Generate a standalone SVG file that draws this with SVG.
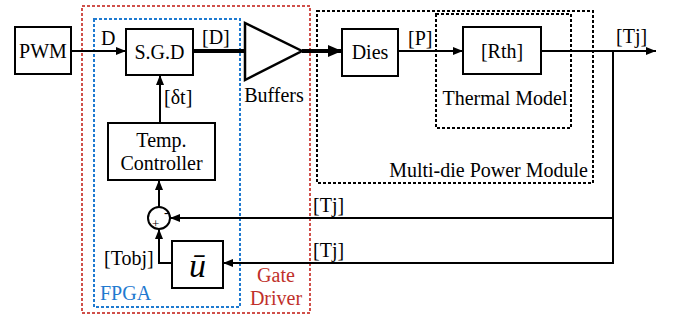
<svg xmlns="http://www.w3.org/2000/svg" width="674" height="320" viewBox="0 0 674 320">
<defs>
<marker id="ah" viewBox="0 0 10 8" refX="10" refY="4" markerWidth="10" markerHeight="8" markerUnits="userSpaceOnUse" orient="auto"><path d="M0,0 L10,4 L0,8 Z" fill="#000"/></marker>
<marker id="ahb" viewBox="0 0 14 12" refX="14" refY="6" markerWidth="14" markerHeight="12" markerUnits="userSpaceOnUse" orient="auto"><path d="M0,0 L14,6 L0,12 Z" fill="#000"/></marker>
</defs>
<style>
text{font-family:"Liberation Serif","Times New Roman",serif;font-size:20px;fill:#000}
.box{fill:#fff;stroke:#000;stroke-width:2}
.ln{fill:none;stroke:#000;stroke-width:2}
.thick{fill:none;stroke:#000;stroke-width:4}
.dk{fill:none;stroke:#000;stroke-width:2;stroke-dasharray:3 2}
.dr{fill:none;stroke:#d0504a;stroke-width:2;stroke-dasharray:3 2}
.db{fill:none;stroke:#1f7ad0;stroke-width:2;stroke-dasharray:3 2}
</style>
<rect width="674" height="320" fill="#fff"/>
<g id="groups">
<rect class="dr" x="82" y="6" width="228" height="307"/>
<rect class="db" x="94" y="19" width="146" height="288"/>
<rect class="dk" x="317" y="11" width="276" height="172"/>
<rect class="dk" x="436" y="14" width="135" height="114"/>
<text x="100" y="300" style="fill:#1f7ad0">FPGA</text>
<text x="276" y="282" text-anchor="middle" style="fill:#c0302a">Gate</text>
<text x="276" y="305" text-anchor="middle" style="fill:#c0302a">Driver</text>
<text x="588" y="177" text-anchor="end">Multi-die Power Module</text>
<text x="505" y="105" text-anchor="middle">Thermal Model</text>
</g>
<g id="connectors">
<line class="ln" x1="71" y1="51" x2="126" y2="51" marker-end="url(#ah)"/>
<line class="thick" x1="193" y1="51" x2="245" y2="51"/>
<line class="thick" x1="302" y1="51" x2="342" y2="51" marker-end="url(#ahb)"/>
<line class="ln" x1="398" y1="51" x2="463" y2="51" marker-end="url(#ah)"/>
<line class="ln" x1="541" y1="51" x2="656" y2="51" marker-end="url(#ah)"/>
<polyline class="ln" points="613,51 613,263 223,263" marker-end="url(#ah)"/>
<line class="ln" x1="613" y1="218" x2="170" y2="218" marker-end="url(#ah)"/>
<line class="ln" x1="160" y1="123" x2="160" y2="75" marker-end="url(#ah)"/>
<line class="ln" x1="159" y1="207" x2="159" y2="180" marker-end="url(#ah)"/>
<polyline class="ln" points="172,263 159,263 159,229" marker-end="url(#ah)"/>
<text x="101" y="45">D</text>
<text x="202" y="44">[D]</text>
<text x="164" y="104">[δt]</text>
<text x="408" y="45">[P]</text>
<text x="616" y="43">[Tj]</text>
<text x="313" y="212">[Tj]</text>
<text x="313" y="257">[Tj]</text>
<text x="104" y="265">[Tobj]</text>
</g>
<g id="pwm"><rect class="box" x="15" y="27" width="56" height="47"/><text x="43" y="58" text-anchor="middle">PWM</text></g>
<g id="sgd"><rect class="box" x="126" y="29" width="67" height="46"/><text x="159.5" y="59" text-anchor="middle">S.G.D</text></g>
<g id="buffers"><polygon points="245,23 245,80 302,51" fill="#fff" stroke="#000" stroke-width="2.5"/><text x="274" y="102" text-anchor="middle">Buffers</text></g>
<g id="dies"><rect class="box" x="342" y="29" width="56" height="47"/><text x="370" y="59" text-anchor="middle">Dies</text></g>
<g id="rth"><rect class="box" x="463" y="27" width="78" height="47"/><text x="502" y="58" text-anchor="middle">[Rth]</text></g>
<g id="controller"><rect class="box" x="108" y="123" width="107" height="57"/><text x="161.5" y="147" text-anchor="middle">Temp.</text><text x="161.5" y="170" text-anchor="middle">Controller</text></g>
<g id="sum"><circle cx="159" cy="218" r="11" fill="#fff" stroke="#000" stroke-width="2"/><text x="164" y="217" style="font-size:14px">-</text><text x="152" y="228" style="font-size:13px">+</text></g>
<g id="ubar"><rect class="box" x="172" y="241" width="51" height="47"/><text x="197.5" y="277" text-anchor="middle" style="font-size:34px;font-style:italic">ū</text></g>
</svg>
